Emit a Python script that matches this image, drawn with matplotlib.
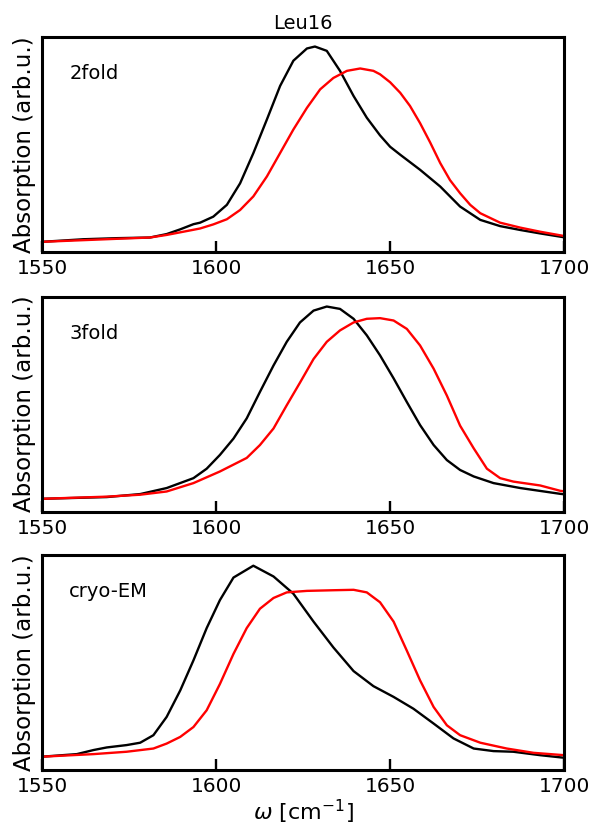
import matplotlib
matplotlib.use("Agg")
import matplotlib.pyplot as plt

# wavenumbers (cm^-1) and absorption (arb. units)
w_2f = [1550, 1561.9, 1571.5, 1581.0, 1585.8, 1589.7, 1593.5, 1595.4, 1599.2, 1603.1, 1606.9,
        1610.7, 1614.6, 1618.4, 1622.2, 1626.1, 1628.4, 1631.8, 1635.6, 1639.5, 1643.3, 1647.1,
        1650.0, 1652.9, 1658.6, 1664.4, 1670.1, 1675.9, 1681.6, 1687.4, 1693.1, 1700]
blk_2f = [0.048, 0.06, 0.065, 0.068, 0.084, 0.106, 0.13, 0.137, 0.165, 0.22, 0.32,
          0.46, 0.617, 0.773, 0.89, 0.947, 0.956, 0.936, 0.843, 0.726, 0.625, 0.543,
          0.49, 0.453, 0.383, 0.305, 0.212, 0.15, 0.121, 0.103, 0.087, 0.069]
w_2f_r = [1550, 1571.5, 1581.0, 1585.8, 1593.5, 1595.4, 1599.2, 1603.1, 1606.9, 1610.7, 1614.6,
          1618.4, 1622.2, 1626.1, 1629.9, 1633.7, 1637.6, 1641.4, 1645.2, 1647.1, 1650.0, 1652.9,
          1655.7, 1658.6, 1661.5, 1664.4, 1667.2, 1670.1, 1673.0, 1675.9, 1681.6, 1687.4, 1693.1,
          1700]
red_2f = [0.048, 0.062, 0.068, 0.08, 0.104, 0.11, 0.129, 0.153, 0.196, 0.259, 0.352,
          0.461, 0.57, 0.671, 0.757, 0.81, 0.843, 0.854, 0.843, 0.827, 0.79, 0.741,
          0.68, 0.60, 0.51, 0.414, 0.335, 0.274, 0.22, 0.181, 0.137, 0.114, 0.095,
          0.075]

w_3f = [1550, 1568.6, 1578.2, 1585.8, 1593.5, 1597.3, 1601.1, 1605.0, 1608.8, 1612.6, 1616.5,
        1620.3, 1624.1, 1628.0, 1631.8, 1635.6, 1639.5, 1643.3, 1647.1, 1651.0, 1654.8, 1658.6,
        1662.5, 1666.3, 1670.1, 1674.0, 1679.7, 1687.4, 1698.9, 1700]
blk_3f = [0.06, 0.068, 0.082, 0.11, 0.156, 0.20, 0.264, 0.34, 0.434, 0.557, 0.68,
          0.79, 0.88, 0.935, 0.954, 0.943, 0.897, 0.82, 0.727, 0.62, 0.51, 0.403,
          0.31, 0.24, 0.194, 0.164, 0.133, 0.11, 0.083, 0.081]
w_3f_r = [1550, 1568.6, 1578.2, 1585.8, 1593.5, 1601.1, 1608.8, 1612.6, 1616.5, 1620.3, 1624.1,
          1628.0, 1631.8, 1635.6, 1639.5, 1643.3, 1647.1, 1651.0, 1654.8, 1658.6, 1662.5, 1666.3,
          1670.1, 1674.0, 1677.8, 1681.6, 1685.4, 1693.1, 1698.9, 1700]
red_3f = [0.06, 0.07, 0.079, 0.094, 0.133, 0.187, 0.25, 0.31, 0.387, 0.495, 0.60,
          0.71, 0.79, 0.843, 0.88, 0.897, 0.90, 0.889, 0.85, 0.773, 0.665, 0.54,
          0.40, 0.295, 0.20, 0.156, 0.14, 0.122, 0.097, 0.095]

w_em = [1550, 1560.0, 1564.8, 1568.6, 1574.3, 1578.2, 1582.0, 1585.8, 1589.7, 1593.5, 1597.3,
        1601.1, 1605.0, 1610.7, 1616.5, 1622.2, 1628.0, 1633.7, 1639.5, 1645.2, 1651.0, 1656.7,
        1662.5, 1668.2, 1674.0, 1679.7, 1685.4, 1693.1, 1700]
blk_em = [0.062, 0.074, 0.093, 0.105, 0.116, 0.127, 0.162, 0.247, 0.37, 0.51, 0.66,
          0.79, 0.895, 0.95, 0.90, 0.82, 0.69, 0.57, 0.46, 0.39, 0.34, 0.285,
          0.216, 0.147, 0.10, 0.088, 0.085, 0.069, 0.057]
w_em_r = [1550, 1564.8, 1574.3, 1582.0, 1585.8, 1589.7, 1593.5, 1597.3, 1601.1, 1605.0, 1608.8,
          1612.6, 1616.5, 1620.3, 1626.1, 1633.7, 1639.5, 1643.3, 1647.1, 1651.0, 1654.8, 1658.6,
          1662.5, 1666.3, 1670.1, 1675.9, 1683.5, 1691.2, 1700]
red_em = [0.062, 0.074, 0.085, 0.10, 0.123, 0.154, 0.20, 0.278, 0.40, 0.54, 0.66,
          0.75, 0.80, 0.826, 0.833, 0.836, 0.838, 0.826, 0.78, 0.69, 0.555, 0.417,
          0.293, 0.208, 0.162, 0.127, 0.10, 0.08, 0.069]

panels = [("2fold", w_2f, blk_2f, w_2f_r, red_2f),
          ("3fold", w_3f, blk_3f, w_3f_r, red_3f),
          ("cryo-EM", w_em, blk_em, w_em_r, red_em)]
xticks = [1550, 1600, 1650, 1700]

fig = plt.figure(figsize=(5.92, 8.24), dpi=100)
bottoms = [0.694, 0.379, 0.0655]
for (name, wb, yb, wr, yr), b in zip(panels, bottoms):
    ax = fig.add_axes([0.071, b, 0.882, 0.261])
    ax.plot(wb, yb, color="black", lw=1.7, solid_joinstyle="round")
    ax.plot(wr, yr, color="red", lw=1.7, solid_joinstyle="round")
    ax.set_xlim(1550, 1700)
    ax.set_ylim(0, 1)
    ax.set_xticks(xticks)
    ax.set_yticks([])
    ax.tick_params(axis="x", direction="in", length=8, width=1.7, labelsize=14.5, pad=5)
    for s in ax.spines.values():
        s.set_linewidth(2.2)
    ax.set_ylabel("Absorption (arb.u.)", fontsize=16.5, labelpad=4)
    ax.text(0.052, 0.83, name, transform=ax.transAxes, fontsize=14, va="center")
    if name == "2fold":
        ax.set_title("Leu16", fontsize=14, pad=6)
    if name == "cryo-EM":
        ax.set_xlabel(r"$\omega$ [cm$^{-1}$]", fontsize=16, labelpad=1)

fig.savefig("out.png", dpi=100)
